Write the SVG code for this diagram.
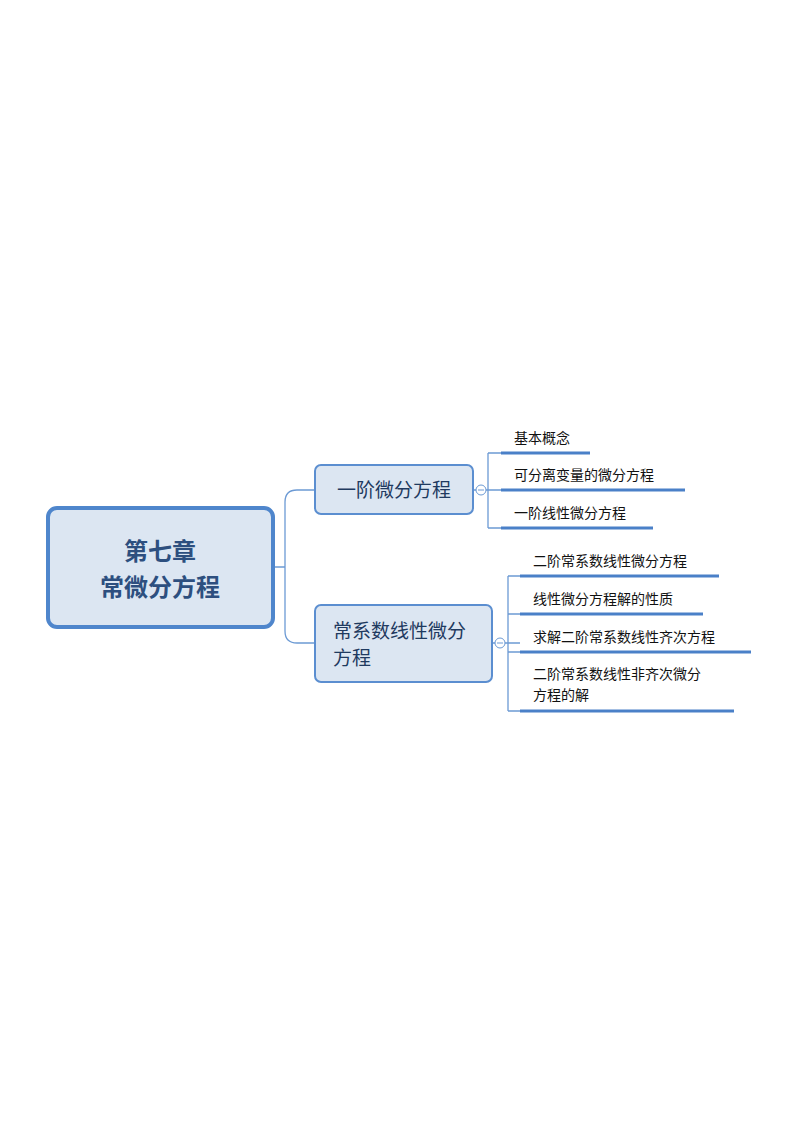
<svg xmlns="http://www.w3.org/2000/svg" width="800" height="1132" viewBox="0 0 800 1132">
<style>
text{font-family:"Noto Sans CJK SC","Noto Sans",sans-serif;}
.box{fill:#dce6f2;stroke:#5b8ed0;stroke-width:2}
.c{fill:none;stroke:#6c9ad4;stroke-width:1.3}
.u{stroke:#4a80c8;stroke-width:3}
.t{font-size:14px;fill:#111}
.b{font-size:19px;fill:#1f3a60}
.tog{fill:#fff;stroke:#6c9ad4;stroke-width:1}
</style>
<rect width="800" height="1132" fill="#fff"/>
<g id="connectors">
<path class="c" d="M273 567H285M285 502Q285 490 297 490H315M285 631Q285 643 297 643H315M285 502V631"/>
<path class="c" d="M473 490H501M488 453V528M488 453H501M488 528H501"/>
<path class="c" d="M492 643H520M508 576V711M508 576H520M508 614H520M508 652H520M508 711H520"/>
</g>
<g id="root">
<rect x="48" y="508" width="225" height="119" rx="9" fill="#dce6f2" stroke="#4f86cc" stroke-width="4"/>
<text x="160" y="560" text-anchor="middle" font-size="24" font-weight="bold" fill="#2d4f7f">第七章</text>
<text x="160" y="596" text-anchor="middle" font-size="24" font-weight="bold" fill="#2d4f7f">常微分方程</text>
</g>
<g id="n1">
<rect class="box" x="315" y="465" width="158" height="49" rx="6"/>
<text class="b" x="394" y="497" text-anchor="middle">一阶微分方程</text>
<circle class="tog" cx="481" cy="490" r="5"/><path d="M478 490H484" stroke="#6c9ad4"/>
</g>
<g id="n2">
<rect class="box" x="315" y="605" width="177" height="77" rx="6"/>
<text class="b" x="333" y="638">常系数线性微分</text>
<text class="b" x="333" y="665">方程</text>
<circle class="tog" cx="500" cy="643" r="5"/><path d="M497 643H503" stroke="#6c9ad4"/>
</g>
<g id="c1"><text class="t" x="514" y="443">基本概念</text><path class="u" d="M501 453H590"/></g>
<g id="c2"><text class="t" x="514" y="480">可分离变量的微分方程</text><path class="u" d="M501 490H685"/></g>
<g id="c3"><text class="t" x="514" y="518">一阶线性微分方程</text><path class="u" d="M501 528H653"/></g>
<g id="c4"><text class="t" x="533" y="566">二阶常系数线性微分方程</text><path class="u" d="M520 576H719"/></g>
<g id="c5"><text class="t" x="533" y="604">线性微分方程解的性质</text><path class="u" d="M520 614H703"/></g>
<g id="c6"><text class="t" x="533" y="642">求解二阶常系数线性齐次方程</text><path class="u" d="M520 652H751"/></g>
<g id="c7"><text class="t" x="533" y="679">二阶常系数线性非齐次微分</text><text class="t" x="533" y="700">方程的解</text><path class="u" d="M520 711H734"/></g>
</svg>
